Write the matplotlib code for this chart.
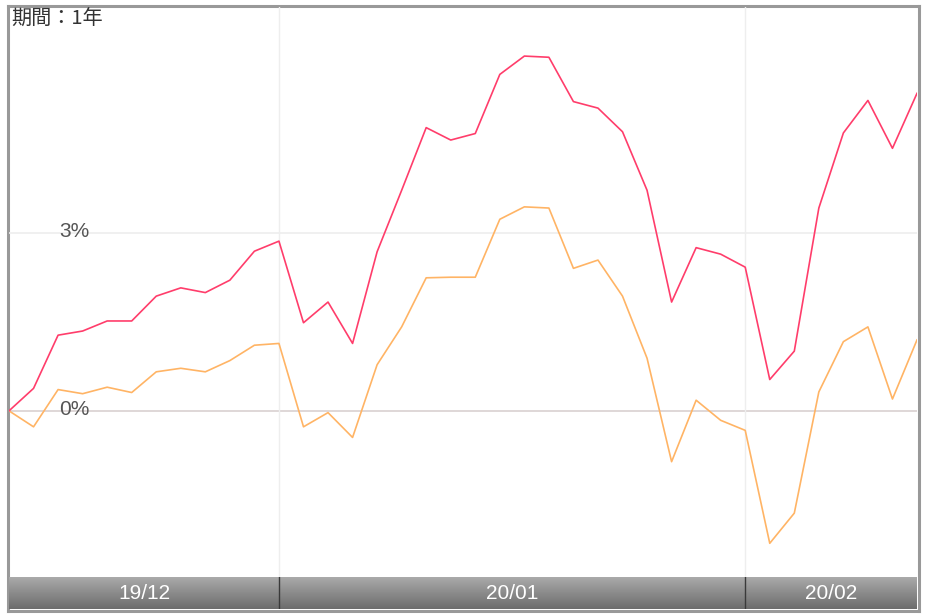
import matplotlib
matplotlib.use("Agg")
import matplotlib.pyplot as plt
import numpy as np

# 期間ラベルと月ラベル
period_label = "期間：1年"
months = ["19/12", "20/01", "20/02"]
month_start = [0, 11, 30]  # 各月の最初のデータ位置
y_ticks = [0, 3]
y_tick_labels = ["0%", "3%"]

# 騰落率（%）
fund = [0.00, 0.38, 1.28, 1.35, 1.52, 1.52, 1.94, 2.08, 2.00, 2.21,
        2.70, 2.87, 1.49, 1.84, 1.14, 2.69, 3.73, 4.79, 4.58, 4.69,
        5.69, 6.00, 5.98, 5.23, 5.12, 4.72, 3.73, 1.84, 2.76, 2.65,
        2.43, 0.53, 1.01, 3.43, 4.70, 5.25, 4.44, 5.37]
bench = [0.00, -0.27, 0.36, 0.29, 0.40, 0.31, 0.66, 0.72, 0.66, 0.85,
         1.11, 1.14, -0.27, -0.03, -0.45, 0.78, 1.42, 2.25, 2.26, 2.26,
         3.24, 3.45, 3.43, 2.41, 2.55, 1.94, 0.89, -0.86, 0.18, -0.16,
         -0.33, -2.24, -1.73, 0.32, 1.17, 1.42, 0.20, 1.20]

W, H = 925, 616
fig = plt.figure(figsize=(W / 100, H / 100), dpi=100)


def box(x0, y0, x1, y1):
    # ピクセル座標（左上原点）→ figure 座標
    return [x0 / W, (H - y1) / H, (x1 - x0) / W, (y1 - y0) / H]


# 外枠
frame = fig.add_axes(box(7.5, 5.5, 918.5, 610.5))
frame.set_xticks([])
frame.set_yticks([])
for s in frame.spines.values():
    s.set_linewidth(2.2)
    s.set_color("#999999")

# メインのグラフ
ax = fig.add_axes(box(9, 7, 917, 577))
x = np.arange(len(fund))
n = len(fund) - 1
ax.set_xlim(0, n)
ax.set_ylim(-2.81, 6.83)
ax.patch.set_alpha(0)
for s in ax.spines.values():
    s.set_visible(False)
ax.set_xticks([])
ax.set_yticks([])

ax.axhline(3, color="#eeeeee", lw=1.2, zorder=1)
ax.axhline(0, color="#d9d1d1", lw=1.2, zorder=1)
for m in month_start[1:]:
    ax.axvline(m, color="#eeeeee", lw=1.0, zorder=1)

ax.plot(x, bench, color="#ffb465", lw=1.2, zorder=3)
ax.plot(x, fund, color="#ff3d6b", lw=1.2, zorder=4)

for v, lab in zip(y_ticks, y_tick_labels):
    ax.text(2.06, v + 0.03, lab, ha="left", va="center", fontsize=15,
            color="#555555", family=["Liberation Sans"], zorder=5)

fig.text(11 / W, 1 - 9 / H, period_label, ha="left", va="top", fontsize=14.5,
         color="#333333", family=["Noto Sans CJK JP", "DejaVu Sans"])

# 下の月バー
bar = fig.add_axes(box(9, 577, 917, 609))
grad = np.linspace(0, 1, 64).reshape(-1, 1)
bar.imshow(grad, aspect="auto", cmap=plt.matplotlib.colors.LinearSegmentedColormap.from_list(
    "g", ["#acacac", "#6c6c6c"]), extent=(0, n, 0, 1), origin="upper")
bar.set_xlim(0, n)
bar.set_ylim(0, 1)
bar.set_xticks([])
bar.set_yticks([])
for s in bar.spines.values():
    s.set_visible(False)
ends = month_start[1:] + [n]
for m0, m1, lab in zip(month_start, ends, months):
    bar.text((m0 + m1) / 2, 0.47, lab, ha="center", va="center", fontsize=15,
             color="white", family=["Liberation Sans"])
for m in month_start[1:]:
    bar.axvline(m, color="#3a3a3a", lw=1.0)

fig.savefig("out.png", dpi=100)
